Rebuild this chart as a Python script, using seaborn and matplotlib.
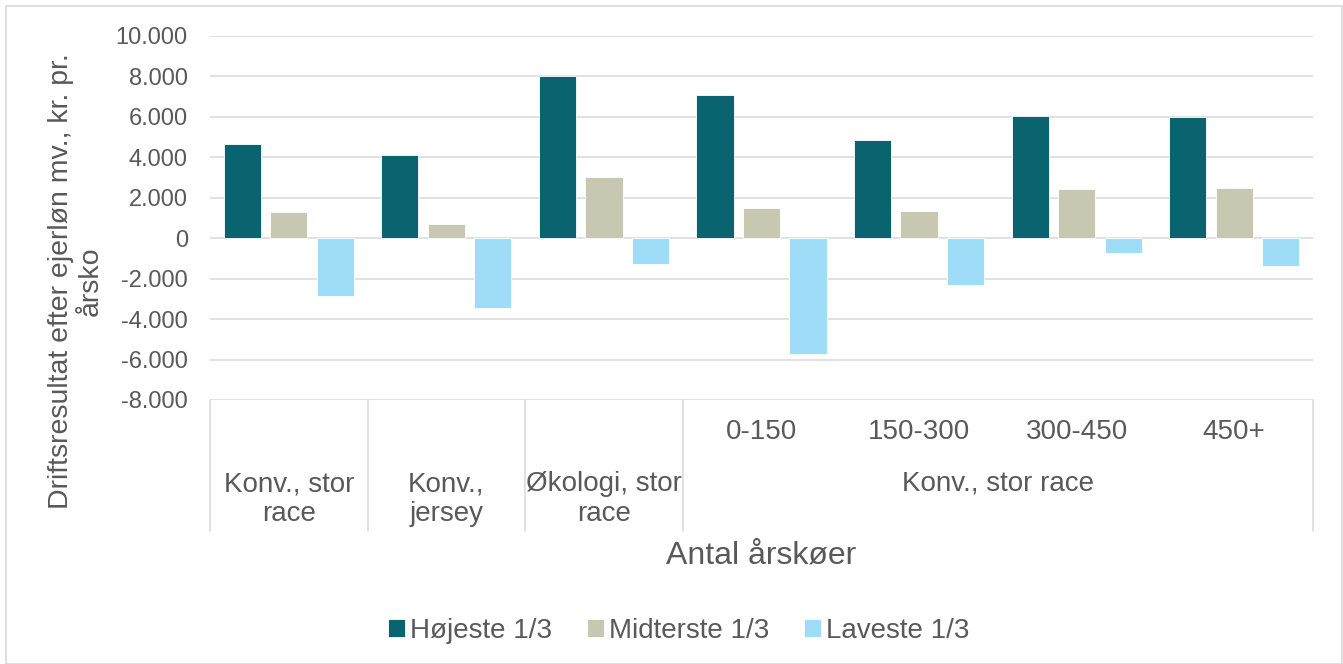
import pandas as pd
import seaborn as sns
import matplotlib.pyplot as plt
import matplotlib.transforms as mtransforms
from matplotlib.patches import Rectangle

# data
kategorier = ["Konv., stor race", "Konv., jersey", "Økologi, stor race",
              "0-150", "150-300", "300-450", "450+"]
hoejeste = [4650, 4100, 8000, 7100, 4880, 6030, 6000]
midterste = [1300, 700, 3020, 1500, 1370, 2430, 2500]
laveste = [-2850, -3430, -1290, -5720, -2300, -750, -1370]
serier = ["Højeste 1/3", "Midterste 1/3", "Laveste 1/3"]
farver = ["#096470", "#c8c7b2", "#9edcf7"]

# labels on the category axis (first three groups have no inner label)
ydre_labels = ["Konv., stor\nrace", "Konv.,\njersey", "Økologi, stor\nrace"]
indre_labels = ["0-150", "150-300", "300-450", "450+"]
gruppe_label = "Konv., stor race"

df = pd.DataFrame({
    "kategori": kategorier * 3,
    "serie": [serier[0]] * 7 + [serier[1]] * 7 + [serier[2]] * 7,
    "vaerdi": hoejeste + midterste + laveste,
})

sns.set_style("white")
plt.rcParams["font.family"] = ["Liberation Sans", "DejaVu Sans"]
tekstfarve = "#595959"

fig = plt.figure(figsize=(13.43, 6.64), dpi=100)
W, H = 1343, 664
ax = fig.add_axes([210 / W, 1 - 400 / H, (1313 - 210) / W, (400 - 36) / H])

sns.barplot(data=df, x="kategori", y="vaerdi", hue="serie", order=kategorier,
            hue_order=serier, palette=farver, saturation=1, width=0.885, gap=0.2,
            edgecolor="white", linewidth=0.6, ax=ax)

ax.set_ylim(-8000, 10000)
ax.set_xlim(-0.5, 6.5)
ax.set_yticks(range(-8000, 10001, 2000))
ax.set_yticklabels([f"{v:,}".replace(",", ".") for v in range(-8000, 10001, 2000)],
                   fontsize=17, color=tekstfarve)
ax.tick_params(axis="y", length=0, pad=16)
ax.set_xticks([])
ax.set_xlabel("")
ax.set_ylabel("")
ax.set_axisbelow(True)
ax.yaxis.grid(True, color="#d9d9d9", linewidth=1.1)
for s in ax.spines.values():
    s.set_visible(False)

# multi-level category axis
trans = mtransforms.blended_transform_factory(ax.transData, ax.transAxes)
bund = -(531 - 400) / 364
for xv in [-0.5, 0.5, 1.5, 2.5, 6.5]:
    ax.plot([xv, xv], [0, bund], color="#d9d9d9", linewidth=1.1,
            transform=trans, clip_on=False)
for i, lab in enumerate(ydre_labels):
    ax.text(i, -(499 - 400) / 364, lab, transform=trans, ha="center", va="center",
            fontsize=20, color=tekstfarve, linespacing=1.2)
for i, lab in enumerate(indre_labels):
    ax.text(3 + i, -(432 - 400) / 364, lab, transform=trans, ha="center", va="center",
            fontsize=20, color=tekstfarve)
ax.text(4.5, -(483 - 400) / 364, gruppe_label, transform=trans, ha="center",
        va="center", fontsize=20, color=tekstfarve)

fig.text(761 / W, 1 - 555 / H, "Antal årskøer", ha="center", va="center",
         fontsize=23, color=tekstfarve)
fig.text(76 / W, 1 - 281 / H, "Driftsresultat efter ejerløn mv., kr. pr.\nårsko",
         rotation=90, ha="center", va="center", multialignment="center",
         fontsize=20.5, color=tekstfarve, linespacing=1.22)

handles, labels = ax.get_legend_handles_labels()
ax.legend(handles, labels, loc="center", bbox_to_anchor=(679 / W, 1 - 631 / H),
          bbox_transform=fig.transFigure, ncol=3, frameon=False, fontsize=20,
          handlelength=0.6, handleheight=0.6, handletextpad=0.2,
          columnspacing=1.25, labelcolor=tekstfarve)

# light frame around the chart area
fig.patches.append(Rectangle((6 / W, 0.5 / H), (1341.5 - 6) / W, (657.5) / H,
                             transform=fig.transFigure, fill=False,
                             edgecolor="#d9d9d9", linewidth=1.2))

fig.savefig("out.png", dpi=100)
